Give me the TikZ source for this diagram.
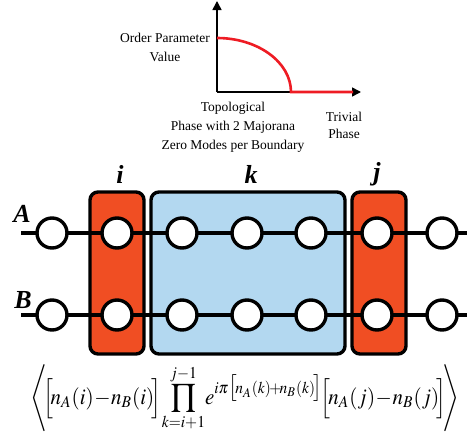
\documentclass[tikz,border=0pt]{standalone}
\usepackage{mathptmx}
\usepackage[no-math]{fontspec}
\setmainfont{Liberation Serif}
\usetikzlibrary{arrows.meta}
\definecolor{boxred}{HTML}{F04E23}
\definecolor{boxblue}{HTML}{B3D8F0}
\definecolor{curvered}{HTML}{EE1C24}
\tikzset{
  site/.style={circle,draw=black,fill=white,line width=3.4pt,minimum size=30pt,inner sep=0pt},
  groupbox/.style={draw=black,line width=3.4pt,rounded corners=8pt},
  chain/.style={line width=3.4pt,draw=black},
  axis/.style={line width=1.6pt,-{Triangle[length=9pt,width=9pt]}},
  lbl/.style={font=\fontsize{13.5}{19}\selectfont,align=center,inner sep=0pt},
  bigl/.style={font=\fontsize{26}{28}\selectfont\bfseries\itshape,inner sep=0pt}
}
\begin{document}
\begin{tikzpicture}[x=1pt,y=-1pt]
\useasboundingbox (0,0) rectangle (467,434);
% chart
\coordinate (o) at (217,92);
\coordinate (ytop) at (217,1);
\coordinate (xend) at (361,92);
\draw[axis] (o) -- (ytop);
\draw[axis] (o) -- (xend);
\coordinate (c0) at (217,38);
\coordinate (c1) at (291,92);
\coordinate (c2) at (353,92);
\draw[curvered,line width=2.6pt] (c0) arc[start angle=90,end angle=0,x radius=74,y radius=-54] -- (c2);
\node[lbl] (op) at (165,47.5) {Order Parameter\\Value};
\node[lbl] (topo) at (233,127) {Topological\\Phase with 2 Majorana\\Zero Modes per Boundary};
\node[lbl,font=\fontsize{13.5}{17}\selectfont] (triv) at (344,125.5) {Trivial\\Phase};
% boxes
\draw[groupbox,fill=boxred] (90,192) rectangle (144,354);
\draw[groupbox,fill=boxblue] (151,192) rectangle (345,354);
\draw[groupbox,fill=boxred] (352,192) rectangle (406,354);
\node[bigl] (li) at (120,174) {i};
\node[bigl] (lk) at (251,174) {k};
\node[bigl] (lj) at (377,174) {j};
\node[bigl] (lA) at (22,214) {A};
\node[bigl] (lB) at (23,300) {B};
% chains
\coordinate (As) at (21,233);
\coordinate (Ae) at (467,233);
\coordinate (Bs) at (21,315);
\coordinate (Be) at (467,315);
\draw[chain] (As) -- (Ae);
\draw[chain] (Bs) -- (Be);
\foreach \n/\x in {1/52,2/117,3/182,4/247,5/311,6/377,7/442}{
  \node[site] (a\n) at (\x,233) {};
  \node[site] (b\n) at (\x,315) {};
}
% formula
\node[inner sep=0pt] (form) at (245,398.5) {\resizebox*{428pt}{67pt}{$\displaystyle\left\langle\!\!\Big[\!n_A(i)\!-\!n_B(i)\!\Big]\!\prod_{k=i+1}^{j-1}\!e^{i\pi\big[\!n_A(k)\!+\!n_B(k)\!\big]}\!\Big[\!n_A(j)\!-\!n_B(j)\!\Big]\!\!\right\rangle$}};
\end{tikzpicture}
\end{document}
